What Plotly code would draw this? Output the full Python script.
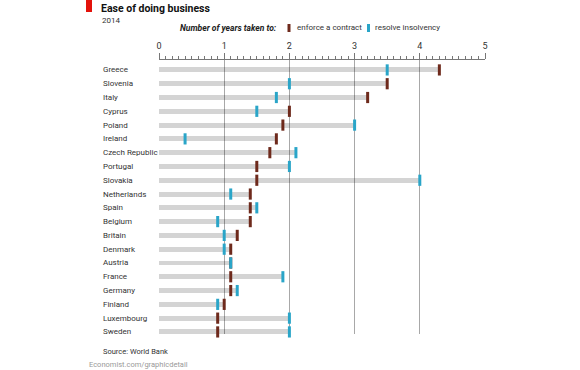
import plotly.graph_objects as go

countries = ["Greece", "Slovenia", "Italy", "Cyprus", "Poland", "Ireland",
             "Czech Republic", "Portugal", "Slovakia", "Netherlands", "Spain",
             "Belgium", "Britain", "Denmark", "Austria", "France", "Germany",
             "Finland", "Luxembourg", "Sweden"]
enforce_contract = [4.3, 3.5, 3.2, 2.0, 1.9, 1.8, 1.7, 1.5, 1.5, 1.4, 1.4, 1.4,
                    1.2, 1.1, 1.1, 1.1, 1.1, 1.0, 0.9, 0.9]
resolve_insolvency = [3.5, 2.0, 1.8, 1.5, 3.0, 0.4, 2.1, 2.0, 4.0, 1.1, 1.5, 0.9,
                      1.0, 1.0, 1.1, 1.9, 1.2, 0.9, 2.0, 2.0]
tick_values = [0, 1, 2, 3, 4, 5]
tick_labels = ["0", "1", "2", "3", "4", "5"]

W, H = 580, 370
L, R, T, B = 159, 485, 60, 334
FONT = "Roboto"
BROWN = "#6e2a1c"
BLUE = "#2aa5c8"


def px(x):
    return (x - L) / (R - L)


def py(y):
    return (B - y) / (B - T)


span = [max(a, b) for a, b in zip(enforce_contract, resolve_insolvency)]

fig = go.Figure()
fig.add_trace(go.Bar(
    y=countries, x=span, base=0, orientation="h", width=0.36,
    marker=dict(color="rgba(0,0,0,0.17)", line=dict(width=0)),
    hoverinfo="skip", showlegend=False,
))
fig.add_trace(go.Scatter(
    y=countries, x=enforce_contract, mode="markers", cliponaxis=False,
    marker=dict(symbol="line-ns", size=8, color=BROWN,
                line=dict(color=BROWN, width=3)),
    showlegend=False, name="enforce a contract",
))
fig.add_trace(go.Scatter(
    y=countries, x=resolve_insolvency, mode="markers", cliponaxis=False,
    marker=dict(symbol="line-ns", size=8, color=BLUE,
                line=dict(color=BLUE, width=3)),
    showlegend=False, name="resolve insolvency",
))

annotations = []
for c in countries:
    annotations.append(dict(
        text=c, xref="paper", x=px(101), yref="y", y=c, xanchor="left",
        yanchor="middle", showarrow=False,
        font=dict(family=FONT, size=8, color="#333"),
    ))

annotations += [
    dict(text="<b>Ease of doing business</b>", xref="paper", yref="paper",
         x=px(99), y=py(8), xanchor="left", yanchor="middle", showarrow=False,
         font=dict(family=FONT, size=10.5, color="#111")),
    dict(text="2014", xref="paper", yref="paper", x=px(100), y=py(21),
         xanchor="left", yanchor="middle", showarrow=False,
         font=dict(family=FONT, size=8, color="#333")),
    dict(text="<b><i>Number of years taken to:</i></b>", xref="paper",
         yref="paper", x=px(279), y=py(28), xanchor="right", yanchor="middle",
         showarrow=False, font=dict(family=FONT, size=8.5, color="#222")),
    dict(text="enforce a contract", xref="paper", yref="paper", x=px(295),
         y=py(28), xanchor="left", yanchor="middle", showarrow=False,
         font=dict(family=FONT, size=8, color="#333")),
    dict(text="resolve insolvency", xref="paper", yref="paper", x=px(373),
         y=py(28), xanchor="left", yanchor="middle", showarrow=False,
         font=dict(family=FONT, size=8, color="#333")),
    dict(text="Source: World Bank", xref="paper", yref="paper", x=px(101),
         y=py(351), xanchor="left", yanchor="middle", showarrow=False,
         font=dict(family=FONT, size=7.5, color="#333")),
    dict(text="Economist.com/graphicdetail", xref="paper", yref="paper",
         x=px(87), y=py(364), xanchor="left", yanchor="middle",
         showarrow=False, font=dict(family=FONT, size=7.5, color="#999")),
]

shapes = [
    dict(type="rect", xref="paper", yref="paper", x0=px(86), x1=px(92),
         y0=py(0), y1=py(12), fillcolor="#e3120b", line=dict(width=0)),
    dict(type="line", xref="paper", yref="paper", x0=px(289), x1=px(289),
         y0=py(24), y1=py(32), line=dict(color=BROWN, width=3)),
    dict(type="line", xref="paper", yref="paper", x0=px(368.5), x1=px(368.5),
         y0=py(24), y1=py(32), line=dict(color=BLUE, width=3)),
]

fig.update_layout(
    width=W, height=H,
    margin=dict(l=L, r=W - R, t=T, b=H - B, pad=0),
    paper_bgcolor="white", plot_bgcolor="white",
    showlegend=False, bargap=0,
    annotations=annotations, shapes=shapes,
    xaxis=dict(
        range=[0, 5], side="top", tickvals=tick_values, ticktext=tick_labels,
        showline=True, linecolor="#777", linewidth=1,
        ticks="outside", ticklen=6, tickcolor="#777", tickwidth=1,
        showgrid=True, gridcolor="#a8a8a8", gridwidth=1, zeroline=False,
        tickfont=dict(family=FONT, size=9, color="#333"),
        minor=dict(dtick=0.1, tick0=0, ticks="outside", ticklen=3,
                   tickcolor="#777", tickwidth=1, showgrid=False),
        fixedrange=True,
    ),
    yaxis=dict(
        type="category", categoryorder="array", categoryarray=countries,
        range=[19.15, -0.72], showticklabels=False, showgrid=False,
        zeroline=False, showline=False, ticks="", fixedrange=True,
    ),
)

fig.write_html("out.html", config={"displayModeBar": False},
               post_script="document.body.style.margin='0';")
